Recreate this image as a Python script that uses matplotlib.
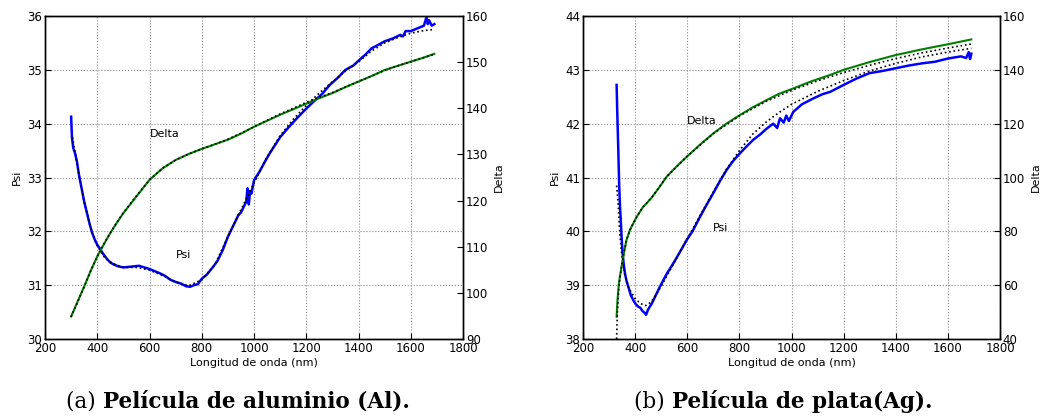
import matplotlib
matplotlib.use('Agg')
import matplotlib.pyplot as plt

# ---- pelicula de aluminio (Al) ----
wl_al_psi = [300, 303, 308, 315, 322, 330, 340, 350, 360, 370, 380, 390, 400, 410, 420, 435, 450, 465,
             480, 500, 520, 540, 560, 580, 600, 620, 640, 660, 680, 700, 720, 740, 755, 770, 785, 800,
             820, 840, 860, 880, 900, 920, 940, 950, 960, 970, 975, 980, 985, 990, 1000, 1020, 1040,
             1060, 1080, 1100, 1130, 1160, 1200, 1230, 1260, 1290, 1320, 1350, 1380, 1400, 1430, 1450,
             1470, 1500, 1530, 1560, 1570, 1580, 1600, 1620, 1640, 1650, 1660, 1665, 1670, 1680, 1690]
psi_al = [34.13, 33.75, 33.55, 33.45, 33.3, 33.05, 32.8, 32.55, 32.35, 32.15, 31.98, 31.85, 31.75,
          31.68, 31.6, 31.5, 31.42, 31.38, 31.35, 31.33, 31.34, 31.35, 31.36, 31.33, 31.30, 31.26,
          31.22, 31.17, 31.10, 31.06, 31.03, 30.98, 30.97, 31.0, 31.02, 31.12, 31.2, 31.32, 31.45,
          31.65, 31.9, 32.1, 32.3, 32.35, 32.45, 32.55, 32.8, 32.5, 32.75, 32.7, 32.95, 33.1, 33.28,
          33.45, 33.6, 33.75, 33.92, 34.08, 34.28, 34.42, 34.55, 34.72, 34.85, 35.0, 35.08, 35.17,
          35.3, 35.4, 35.45, 35.53, 35.58, 35.65, 35.62, 35.72, 35.72, 35.76, 35.8, 35.82, 35.98,
          35.85, 35.92, 35.82, 35.85]

wl_al_mod = [305, 330, 350, 380, 400, 430, 460, 500, 550, 600, 650, 700, 750, 800, 850, 900, 950,
             1000, 1050, 1100, 1150, 1200, 1250, 1300, 1350, 1400, 1450, 1500, 1550, 1600, 1650, 1690]
psi_al_mod = [33.75, 33.05, 32.55, 31.98, 31.73, 31.5, 31.4, 31.33, 31.33, 31.28, 31.18, 31.06,
              30.99, 31.1, 31.38, 31.9, 32.4, 32.9, 33.38, 33.78, 34.08, 34.34, 34.57, 34.78, 34.98,
              35.15, 35.35, 35.5, 35.6, 35.68, 35.73, 35.75]

wl_al_delta = [300, 320, 350, 375, 400, 425, 450, 475, 500, 550, 600, 650, 700, 750, 800, 850, 900,
               950, 1000, 1050, 1100, 1150, 1200, 1250, 1300, 1350, 1400, 1450, 1500, 1550, 1600,
               1650, 1690]
delta_al = [94.9, 97.5, 101.4, 104.8, 107.9, 110.5, 113.0, 115.2, 117.3, 120.9, 124.5, 127.0, 128.8,
            130.1, 131.2, 132.2, 133.2, 134.5, 136.0, 137.3, 138.6, 139.8, 141.0, 142.2, 143.3, 144.6,
            145.8, 147.0, 148.3, 149.2, 150.1, 151.0, 151.8]
delta_al_mod = [94.8, 97.4, 101.3, 104.8, 107.9, 110.6, 113.0, 115.3, 117.4, 121.0, 124.5, 127.0,
                128.8, 130.1, 131.2, 132.2, 133.3, 134.6, 136.0, 137.4, 138.8, 140.0, 141.3, 142.4,
                143.4, 144.6, 145.8, 147.0, 148.2, 149.2, 150.1, 151.0, 151.7]

# ---- pelicula de plata (Ag) ----
wl_ag_psi = [329, 331, 333, 336, 339, 342, 345, 348, 352, 356, 361, 367, 374, 383, 393, 402, 412, 420,
             428, 438, 442, 450, 464, 480, 495, 520, 547, 570, 598, 620, 649, 675, 700, 725, 751, 775,
             802, 828, 853, 880, 905, 930, 945, 956, 970, 980, 990, 1007, 1040, 1084, 1120, 1148, 1200,
             1250, 1300, 1350, 1400, 1450, 1500, 1550, 1600, 1650, 1670, 1680, 1685, 1690]
psi_ag = [42.72, 42.3, 41.94, 41.4, 40.83, 40.45, 40.21, 39.9, 39.59, 39.4, 39.22, 39.08, 38.97,
          38.82, 38.72, 38.65, 38.6, 38.58, 38.52, 38.48, 38.45, 38.55, 38.66, 38.82, 38.97, 39.2,
          39.41, 39.6, 39.84, 40.0, 40.27, 40.5, 40.71, 40.93, 41.14, 41.3, 41.45, 41.58, 41.70, 41.8,
          41.91, 42.0, 41.92, 42.1, 42.02, 42.15, 42.05, 42.22, 42.36, 42.47, 42.55, 42.59, 42.72,
          42.84, 42.94, 42.98, 43.03, 43.08, 43.12, 43.15, 43.21, 43.25, 43.22, 43.33, 43.2, 43.3]

wl_ag_mod = [329, 335, 340, 345, 350, 360, 375, 400, 420, 440, 460, 480, 500, 550, 600, 650, 700, 750,
             800, 850, 900, 950, 1000, 1100, 1200, 1300, 1400, 1500, 1600, 1690]
psi_ag_mod = [40.85, 40.5, 40.05, 39.75, 39.5, 39.2, 38.95, 38.75, 38.66, 38.62, 38.68, 38.82, 38.98,
              39.42, 39.86, 40.3, 40.73, 41.15, 41.5, 41.8, 42.02, 42.2, 42.36, 42.6, 42.8, 42.98,
              43.12, 43.24, 43.33, 43.40]

wl_ag_delta = [329, 332, 337, 342, 348, 357, 367, 380, 393, 406, 430, 444, 464, 490, 521, 560, 598,
               650, 700, 750, 802, 850, 905, 950, 1007, 1075, 1148, 1200, 1300, 1400, 1500, 1600, 1690]
delta_ag = [48.3, 54.0, 60.0, 63.5, 66.9, 72.0, 76.8, 80.5, 83.0, 85.4, 89.0, 90.4, 92.6, 96.0, 100.3,
            104.2, 107.7, 112.3, 116.4, 120.0, 123.2, 126.0, 128.8, 131.0, 133.1, 135.7, 138.1, 140.0,
            142.9, 145.5, 147.6, 149.5, 151.3]
wl_ag_dmod = [329, 330, 332, 337, 342, 348, 357, 367, 380, 393, 406, 430, 464, 521, 598, 700, 802,
              905, 1007, 1100, 1200, 1300, 1400, 1500, 1600, 1690]
delta_ag_mod = [40.0, 44.0, 50.0, 58.5, 63.0, 66.8, 72.0, 76.8, 80.5, 83.0, 85.4, 89.0, 92.6, 100.3,
                107.7, 116.3, 123.0, 128.4, 132.6, 135.9, 139.0, 141.7, 144.2, 146.3, 148.1, 149.6]

xticks = [200, 400, 600, 800, 1000, 1200, 1400, 1600, 1800]

plt.rcParams['font.family'] = ['DejaVu Sans']

fig = plt.figure(figsize=(10.42, 4.19), dpi=100)
fig.patch.set_facecolor('white')


def panel(rect, wl_psi, psi, wl_mod, psi_mod, wl_d, delta, wl_dm, delta_m, psi_lim, d_lim, d_step):
    ax = fig.add_axes(rect)
    ax.plot(wl_psi, psi, color='b', lw=1.8)
    ax.plot(wl_mod, psi_mod, color='k', ls=':', lw=1.2)
    ax.set_xlim(200, 1800)
    ax.set_ylim(*psi_lim)
    ax.set_xticks(xticks)
    ax.set_yticks(range(psi_lim[0], psi_lim[1] + 1))
    ax.grid(True, color='0.55', ls=':', lw=0.8)
    ax.set_xlabel('Longitud de onda (nm)', fontsize=8, labelpad=2)
    ax.set_ylabel('Psi', fontsize=8, labelpad=4)
    ax.tick_params(direction='in', labelsize=8.5, length=4, pad=2)

    ax2 = ax.twinx()
    ax2.plot(wl_d, delta, color='g', lw=1.5)
    ax2.plot(wl_dm, delta_m, color='k', ls=':', lw=1.2)
    ax2.set_ylim(*d_lim)
    ax2.set_yticks(range(d_lim[0], d_lim[1] + 1, d_step))
    ax2.set_ylabel('Delta', fontsize=8, labelpad=4)
    ax2.tick_params(direction='in', labelsize=8.5, length=4, pad=2)
    for a in (ax, ax2):
        for s in a.spines.values():
            s.set_linewidth(1.0)
    return ax


ax_al = panel([0.0432, 0.1909, 0.4012, 0.7709], wl_al_psi, psi_al, wl_al_mod, psi_al_mod,
              wl_al_delta, delta_al, wl_al_delta, delta_al_mod, (30, 36), (90, 160), 10)
ax_al.text(600, 33.75, 'Delta', fontsize=8)
ax_al.text(700, 31.5, 'Psi', fontsize=8)

ax_ag = panel([0.5595, 0.1909, 0.4002, 0.7709], wl_ag_psi, psi_ag, wl_ag_mod, psi_ag_mod,
              wl_ag_delta, delta_ag, wl_ag_dmod, delta_ag_mod, (38, 44), (40, 160), 20)
ax_ag.text(600, 42.0, 'Delta', fontsize=8)
ax_ag.text(700, 40.0, 'Psi', fontsize=8)

# subtitulos: "(a)" normal y el resto en negrita, centrados juntos
captions = [(0.2284, '(a) ', 'Película de aluminio (Al).'),
            (0.7514, '(b) ', 'Película de plata(Ag).')]
pares = []
for xc, letra, texto in captions:
    t1 = fig.text(xc, 0.027, letra, fontsize=15.5, family='DejaVu Serif', va='baseline', ha='left')
    t2 = fig.text(xc, 0.027, texto, fontsize=15.5, family='DejaVu Serif', weight='bold',
                  va='baseline', ha='left')
    pares.append((xc, t1, t2))

fig.canvas.draw()
r = fig.canvas.get_renderer()
W = fig.bbox.width
for xc, t1, t2 in pares:
    w1 = t1.get_window_extent(r).width
    w2 = t2.get_window_extent(r).width
    x0 = xc * W - (w1 + w2) / 2
    t1.set_x(x0 / W)
    t2.set_x((x0 + w1) / W)

fig.savefig('out.png', dpi=100, facecolor='white')
